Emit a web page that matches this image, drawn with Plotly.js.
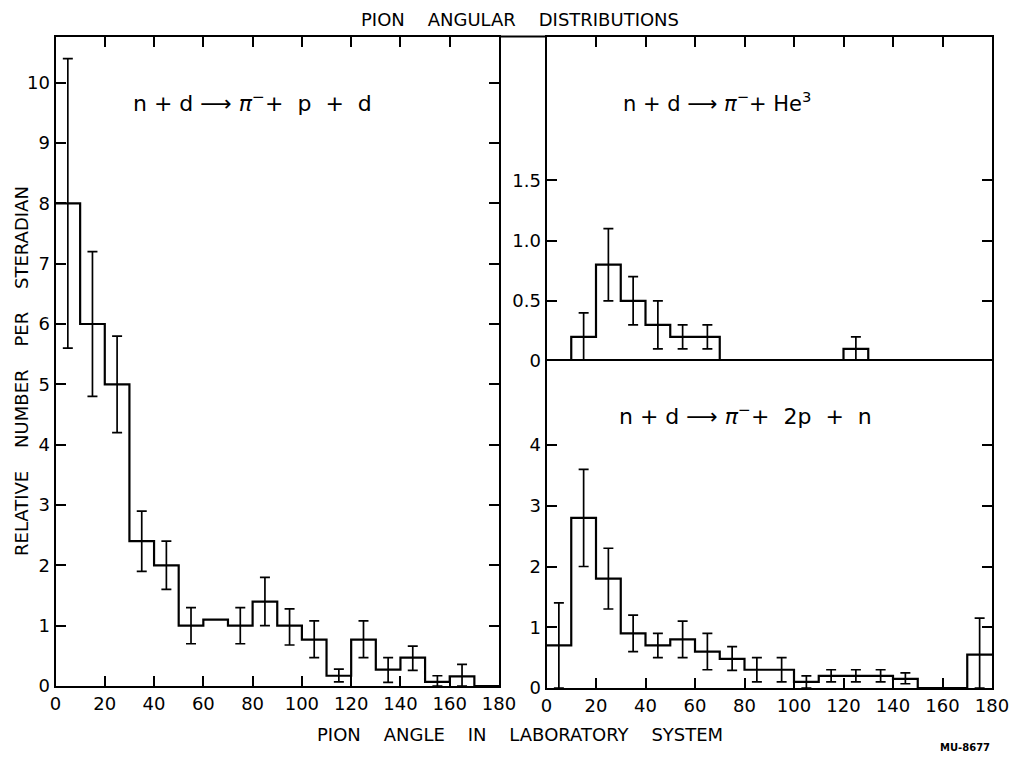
<!DOCTYPE html>
<html>
<head>
<meta charset="utf-8">
<script src="https://cdn.plot.ly/plotly-3.0.1.min.js"></script>
<style>html,body{margin:0;padding:0;background:#fff;}#chart{width:1017px;height:759px;}</style>
</head>
<body>
<div id="chart"></div>
<script>
// ---- data (bin edges in degrees) ----
var binEdges = [0,10,20,30,40,50,60,70,80,90,100,110,120,130,140,150,160,170,180];
var binCenters = [5,15,25,35,45,55,65,75,85,95,105,115,125,135,145,155,165,175];

// n + d -> pi- + p + d
var pdVals = [8, 6, 5, 2.4, 2.0, 1.0, 1.1, 1.0, 1.4, 1.0, 0.77, 0.17, 0.77, 0.27, 0.47, 0.07, 0.16, 0];
var pdHi   = [10.4, 7.2, 5.8, 2.9, 2.4, 1.3, null, 1.3, 1.8, 1.28, 1.08, 0.28, 1.08, 0.47, 0.66, 0.17, 0.36, null];
var pdLo   = [5.6, 4.8, 4.2, 1.9, 1.6, 0.7, null, 0.7, 1.0, 0.68, 0.47, 0.07, 0.47, 0.06, 0.26, 0.0, 0.0, null];

// n + d -> pi- + He3
var heVals = [0, 0.2, 0.8, 0.5, 0.3, 0.2, 0.2, 0, 0, 0, 0, 0, 0.1, 0, 0, 0, 0, 0];
var heHi   = [null, 0.4, 1.1, 0.7, 0.5, 0.3, 0.3, null, null, null, null, null, 0.2, null, null, null, null, null];
var heLo   = [null, 0.0, 0.5, 0.3, 0.1, 0.1, 0.1, null, null, null, null, null, 0.0, null, null, null, null, null];

// n + d -> pi- + 2p + n
var ppnVals = [0.7, 2.8, 1.8, 0.9, 0.7, 0.8, 0.6, 0.48, 0.3, 0.3, 0.1, 0.2, 0.2, 0.2, 0.15, 0, 0, 0.55];
var ppnHi   = [1.4, 3.6, 2.3, 1.2, 0.9, 1.1, 0.9, 0.68, 0.5, 0.5, 0.2, 0.3, 0.3, 0.3, 0.25, null, null, 1.15];
var ppnLo   = [0.0, 2.0, 1.3, 0.6, 0.5, 0.5, 0.3, 0.29, 0.1, 0.1, 0.0, 0.1, 0.1, 0.1, 0.07, null, null, 0.0];

var xTickVals = [0,20,40,60,80,100,120,140,160,180];
var xTickText = ['0','20','40','60','80','100','120','140','160','180'];
var pdTickVals = [0,1,2,3,4,5,6,7,8,9,10];
var heTickVals = [0,0.5,1.0,1.5];
var heTickText = ['0','0.5','1.0','1.5'];
var ppnTickVals = [0,1,2,3,4];

// ---- helpers ----
function stepTrace(vals, xa, ya) {
  return {
    type: 'scatter', mode: 'lines', x: binEdges, y: vals.concat([vals[vals.length-1]]),
    line: {shape: 'hv', color: '#000', width: 2.2}, xaxis: xa, yaxis: ya, hoverinfo: 'skip', showlegend: false
  };
}
function errTrace(vals, hi, lo, xa, ya) {
  var y = [], up = [], dn = [];
  for (var i = 0; i < vals.length; i++) {
    if (hi[i] === null) { y.push(null); up.push(0); dn.push(0); }
    else { y.push(vals[i]); up.push(hi[i] - vals[i]); dn.push(vals[i] - lo[i]); }
  }
  return {
    type: 'scatter', mode: 'markers', x: binCenters, y: y,
    marker: {size: 2, color: 'rgba(0,0,0,0)'},
    error_y: {type: 'data', symmetric: false, array: up, arrayminus: dn, color: '#000', thickness: 1.7, width: 5},
    xaxis: xa, yaxis: ya, hoverinfo: 'skip', showlegend: false
  };
}

var traces = [
  stepTrace(pdVals, 'x', 'y'), errTrace(pdVals, pdHi, pdLo, 'x', 'y'),
  stepTrace(heVals, 'x2', 'y2'), errTrace(heVals, heHi, heLo, 'x2', 'y2'),
  stepTrace(ppnVals, 'x3', 'y3'), errTrace(ppnVals, ppnHi, ppnLo, 'x3', 'y3')
];

var FONT = 'DejaVu Sans, Liberation Sans, sans-serif';
var tickFont = {family: FONT, size: 18, color: '#000'};
var axCommon = {
  showgrid: false, zeroline: false, showline: true, linecolor: '#000', linewidth: 2,
  ticks: 'inside', ticklen: 10, tickwidth: 2, tickcolor: '#000', tickfont: tickFont, fixedrange: true
};
function ax(extra) { var o = {}; for (var k in axCommon) o[k] = axCommon[k]; for (var k2 in extra) o[k2] = extra[k2]; return o; }

var L0 = 55.5/1017, L1 = 499/1017, R0 = 546.5/1017, R1 = 992/1017;
var yBotL = 1 - 686/759, yTop = 1 - 36.5/759, yMid = 1 - 361/759, yBotR = 1 - 688/759;
var S2 = '\u00A0\u00A0', S4 = '\u00A0\u00A0\u00A0\u00A0';

var layout = {
  width: 1017, height: 759,
  margin: {l: 0, r: 0, t: 0, b: 0},
  paper_bgcolor: '#fff', plot_bgcolor: 'rgba(0,0,0,0)',
  showlegend: false,
  title: {text: 'PION' + S4 + 'ANGULAR' + S4 + 'DISTRIBUTIONS', font: {family: FONT, size: 18, color: '#000'},
          x: 520/1017, xanchor: 'center', y: 1 - 20/759, yanchor: 'middle', yref: 'container', xref: 'paper'},
  xaxis: ax({domain: [L0, L1], range: [0, 180], anchor: 'y', tickvals: xTickVals, ticktext: xTickText, mirror: 'ticks'}),
  yaxis: ax({domain: [yBotL, yTop], range: [0, (686-36.5)/60.33], anchor: 'x', tickvals: pdTickVals, mirror: 'ticks'}),
  xaxis2: ax({domain: [R0, R1], range: [0, 180], anchor: 'y2', side: 'top', tickvals: [20,40,60,80,100,120,140,160],
              showticklabels: false}),
  yaxis2: ax({domain: [yMid, yTop], range: [0, (361-36.5)/120.4], anchor: 'x2', tickvals: heTickVals, ticktext: heTickText, mirror: 'ticks'}),
  xaxis3: ax({domain: [R0, R1], range: [0, 180], anchor: 'y3', tickvals: xTickVals, ticktext: xTickText, mirror: true}),
  yaxis3: ax({domain: [yBotR, yMid], range: [0, (688-361)/60.75], anchor: 'x3', tickvals: ppnTickVals, mirror: 'ticks'}),
  shapes: [
    {type: 'line', xref: 'paper', yref: 'paper', x0: L1, x1: R0, y0: yTop, y1: yTop, line: {color: '#000', width: 2}}
  ],
  annotations: [
    {xref: 'paper', yref: 'paper', x: 131/1017, y: 1 - 102/759, xanchor: 'left', yanchor: 'middle', showarrow: false,
     text: 'n + d \u27F6 <i>\u03C0</i><sup>\u2212</sup>+' + S2 + 'p' + S2 + '+' + S2 + 'd', font: {family: FONT, size: 22, color: '#000'}},
    {xref: 'paper', yref: 'paper', x: 621/1017, y: 1 - 102/759, xanchor: 'left', yanchor: 'middle', showarrow: false,
     text: 'n + d \u27F6 <i>\u03C0</i><sup>\u2212</sup>+ He<sup>3</sup>', font: {family: FONT, size: 21, color: '#000'}},
    {xref: 'paper', yref: 'paper', x: 617/1017, y: 1 - 415/759, xanchor: 'left', yanchor: 'middle', showarrow: false,
     text: 'n + d \u27F6 <i>\u03C0</i><sup>\u2212</sup>+' + S2 + '2p' + S2 + '+' + S2 + 'n', font: {family: FONT, size: 22, color: '#000'}},
    {xref: 'paper', yref: 'paper', x: 520/1017, y: 1 - 734/759, xanchor: 'center', yanchor: 'middle', showarrow: false,
     text: 'PION' + S4 + 'ANGLE' + S4 + 'IN' + S4 + 'LABORATORY' + S4 + 'SYSTEM', font: {family: FONT, size: 18, color: '#000'}},
    {xref: 'paper', yref: 'paper', x: 21/1017, y: 1 - 371/759, xanchor: 'center', yanchor: 'middle', showarrow: false, textangle: -90,
     text: 'RELATIVE' + S4 + 'NUMBER' + S4 + 'PER' + S4 + 'STERADIAN', font: {family: FONT, size: 18, color: '#000'}},
    {xref: 'paper', yref: 'paper', x: 965/1017, y: 1 - 747/759, xanchor: 'center', yanchor: 'middle', showarrow: false,
     text: '<b>MU-8677</b>', font: {family: FONT, size: 10, color: '#000'}}
  ]
};

Plotly.newPlot('chart', traces, layout, {displayModeBar: false, staticPlot: true});
</script>
</body>
</html>
